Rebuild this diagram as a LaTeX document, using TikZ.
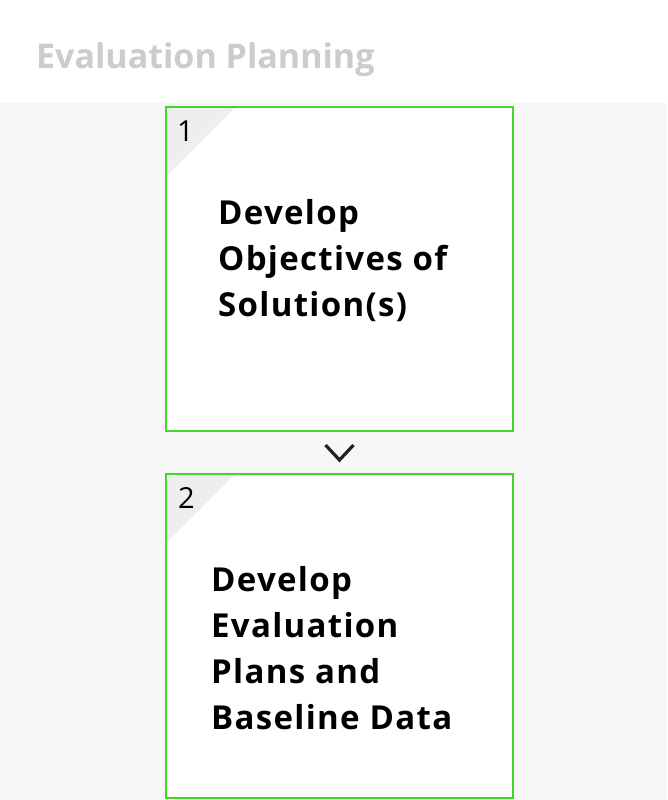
\documentclass[tikz,border=0pt]{standalone}
\usepackage{fontspec}
\usetikzlibrary{calc}
\setmainfont{Open Sans}
\newfontfamily\osbold{Open Sans}[UprightFont=* Bold]
\newfontfamily\osboldwide{Open Sans}[UprightFont=* Bold, LetterSpace=4]
\definecolor{bggray}{HTML}{F7F7F7}
\definecolor{trigray}{HTML}{EEEEEE}
\definecolor{boxgreen}{HTML}{44D62C}
\definecolor{titlegray}{HTML}{CCCCCC}
\definecolor{chevdark}{HTML}{222222}
\newcommand{\boxlines}[1]{\parbox[t]{300pt}{\raggedright\osboldwide\fontsize{33}{46}\selectfont #1}}
\begin{document}
\begin{tikzpicture}[x=1pt,y=-1pt,
  stepbox/.style={draw=boxgreen, line width=2pt, fill=white, minimum width=347pt,
    minimum height=324pt, inner sep=0pt, rectangle,
    path picture={\fill[trigray] (path picture bounding box.north west) -- ++(69pt,0pt) -- ++(-69pt,-69pt) -- cycle;}},
  numtext/.style={anchor=base west, inner sep=0pt, font=\fontsize{29}{31}\selectfont, text=black},
  bodytext/.style={anchor=base west, inner sep=0pt, text=black},
  chev/.style={draw=chevdark, line width=3.2pt, line join=miter, line cap=butt}]
\useasboundingbox (0,0) rectangle (667,800);
\fill[white] (0,0) rectangle (667,800);
\fill[bggray] (0,103) rectangle (667,800);
\node[anchor=base west, inner sep=0pt, text=titlegray, font=\osbold\fontsize{34}{36}\selectfont] (title) at (36,68) {Evaluation Planning};
\node[stepbox] (b1) at (339.5,269) {};
\node[stepbox] (b2) at (339.5,636) {};
\node[numtext] (n1) at (177,141) {1};
\node[numtext] (n2) at (178,508) {2};
\node[bodytext] (t1) at (218,224) {\boxlines{Develop\\Objectives of\\Solution(s)}};
\node[bodytext] (t2) at (211,591) {\boxlines{Develop\\Evaluation\\Plans and\\Baseline Data}};
\coordinate (c1) at ($(b1.south)+(-14,13)$);
\coordinate (c2) at ($(b1.south)+(0,28)$);
\coordinate (c3) at ($(b1.south)+(14,13)$);
\draw[chev] (c1) -- (c2) -- (c3);
\end{tikzpicture}
\end{document}
